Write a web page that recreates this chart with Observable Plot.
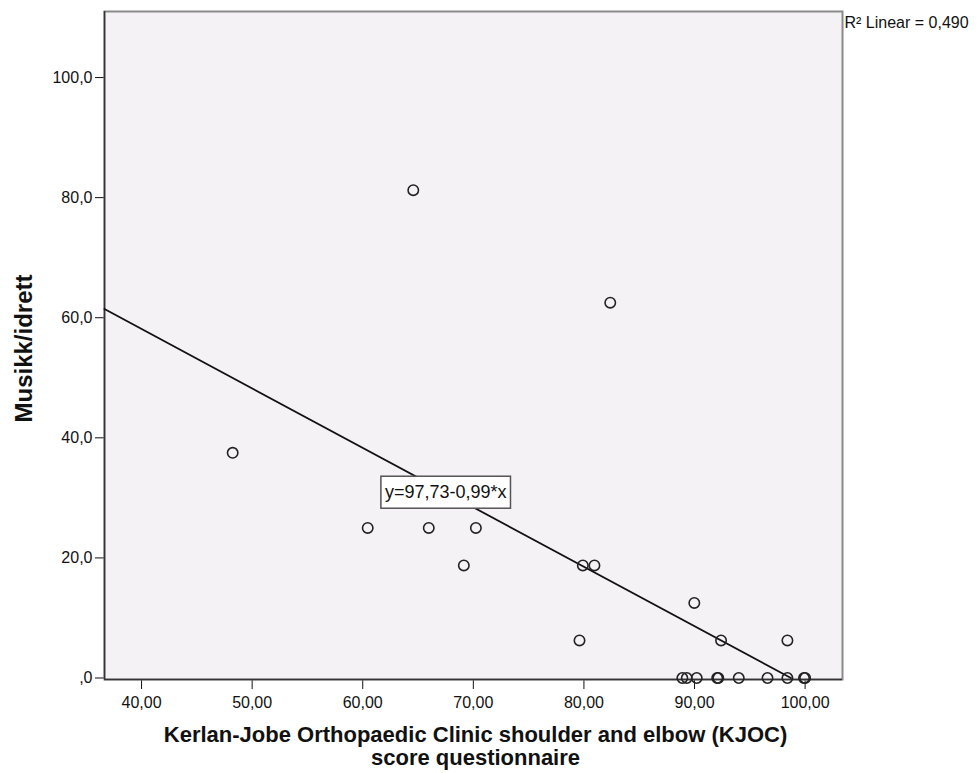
<!DOCTYPE html>
<html><head><meta charset="utf-8">
<script src="https://cdn.jsdelivr.net/npm/d3@7"></script>
<script src="https://cdn.jsdelivr.net/npm/@observablehq/plot@0.6"></script>
<style>body{margin:0;background:#fff;font-family:"Liberation Sans",Arial,sans-serif;}</style>
</head><body><div id="chart"></div>
<script>
// KJOC score (x) vs Musikk/idrett (y)
const kjoc   = [64.57, 82.38, 48.24, 60.45, 65.97, 70.23, 69.14, 79.9, 80.95, 79.6, 89.98, 92.4, 98.4,
                88.9, 89.3, 90.2, 92.05, 92.15, 94.0, 96.6, 98.4, 99.9, 100];
const musikk = [81.25, 62.5, 37.5, 25, 25, 25, 18.75, 18.75, 18.75, 6.25, 12.5, 6.25, 6.25,
                0, 0, 0, 0, 0, 0, 0, 0, 0, 0];
const xTicks = [40, 50, 60, 70, 80, 90, 100];
const yTicks = [0, 20, 40, 60, 80, 100];
const xDomain = [36.65, 103.38];
const yDomain = [-0.25, 111];
const intercept = 97.73, slope = -0.99;
const r2Label = "R² Linear = 0,490";
const eqLabel = "y=97,73-0,99*x";
const eqPos = {x: 67.5, y: 30.9};
const xTitle = "Kerlan-Jobe Orthopaedic Clinic shoulder and elbow (KJOC)\nscore questionnaire";
const yTitle = "Musikk/idrett";

const points = kjoc.map((x, i) => ({x, y: musikk[i]}));
const fitX = [xDomain[0], -intercept / slope];
const fit = fitX.map(x => ({x, y: intercept + slope * x}));

const chart = Plot.plot({
  width: 979, height: 773,
  marginLeft: 104, marginRight: 137, marginTop: 11, marginBottom: 94,
  style: {fontFamily: '"Liberation Sans", Arial, sans-serif', fontSize: "16px", color: "#111", background: "#fff"},
  x: {domain: xDomain, ticks: xTicks, tickSize: 10, tickPadding: 7, label: null,
      tickFormat: d => d.toFixed(2).replace(".", ",")},
  y: {domain: yDomain, ticks: yTicks, tickSize: 9, tickPadding: 3, label: null,
      tickFormat: d => d === 0 ? ",0" : d.toFixed(1).replace(".", ",")},
  marks: [
    Plot.frame({fill: "#f5f2f6", stroke: "#8a8a8a", strokeWidth: 2}),
    Plot.ruleX([xDomain[0]], {stroke: "#333", strokeWidth: 1.5}),
    Plot.ruleY([yDomain[0]], {stroke: "#333", strokeWidth: 1.5}),
    Plot.line(fit, {x: "x", y: "y", stroke: "#111", strokeWidth: 1.8}),
    Plot.dot(points, {x: "x", y: "y", r: 5.2, stroke: "#222", strokeWidth: 1.6, fill: "none"}),
    Plot.text([eqLabel], {x: () => eqPos.x, y: () => eqPos.y, text: d => d, fontSize: 18, fill: "#111", textAnchor: "middle", lineAnchor: "middle"}),
    Plot.text([r2Label], {frameAnchor: "top-right", text: d => d, textAnchor: "start", lineAnchor: "middle", dx: 2, dy: 11, fontSize: 16, fill: "#111"}),
    Plot.text([xTitle], {frameAnchor: "bottom", text: d => d, textAnchor: "middle", lineAnchor: "top", lineHeight: 1.05, dy: 46, dx: 2, fontSize: 22, fontWeight: "bold", fill: "#111"}),
    Plot.text([yTitle], {frameAnchor: "left", text: d => d, rotate: -90, textAnchor: "middle", lineAnchor: "middle", dx: -80.5, dy: 3, fontSize: 24, fontWeight: "bold", fill: "#111"})
  ]
});
document.getElementById("chart").appendChild(chart);

// white box behind the equation label
const svg = d3.select(chart);
svg.selectAll("text").filter(function() { return this.textContent === eqLabel; }).each(function() {
  const bb = this.getBBox();
  const rect = document.createElementNS("http://www.w3.org/2000/svg", "rect");
  rect.setAttribute("x", bb.x - 4);
  rect.setAttribute("y", bb.y - 6);
  rect.setAttribute("width", bb.width + 8);
  rect.setAttribute("height", bb.height + 12);
  rect.setAttribute("fill", "#fff");
  rect.setAttribute("stroke", "#555");
  rect.setAttribute("stroke-width", 1.5);
  const t = this.getAttribute("transform");
  if (t) rect.setAttribute("transform", t);
  this.parentNode.insertBefore(rect, this);
});
</script>
</body></html>
